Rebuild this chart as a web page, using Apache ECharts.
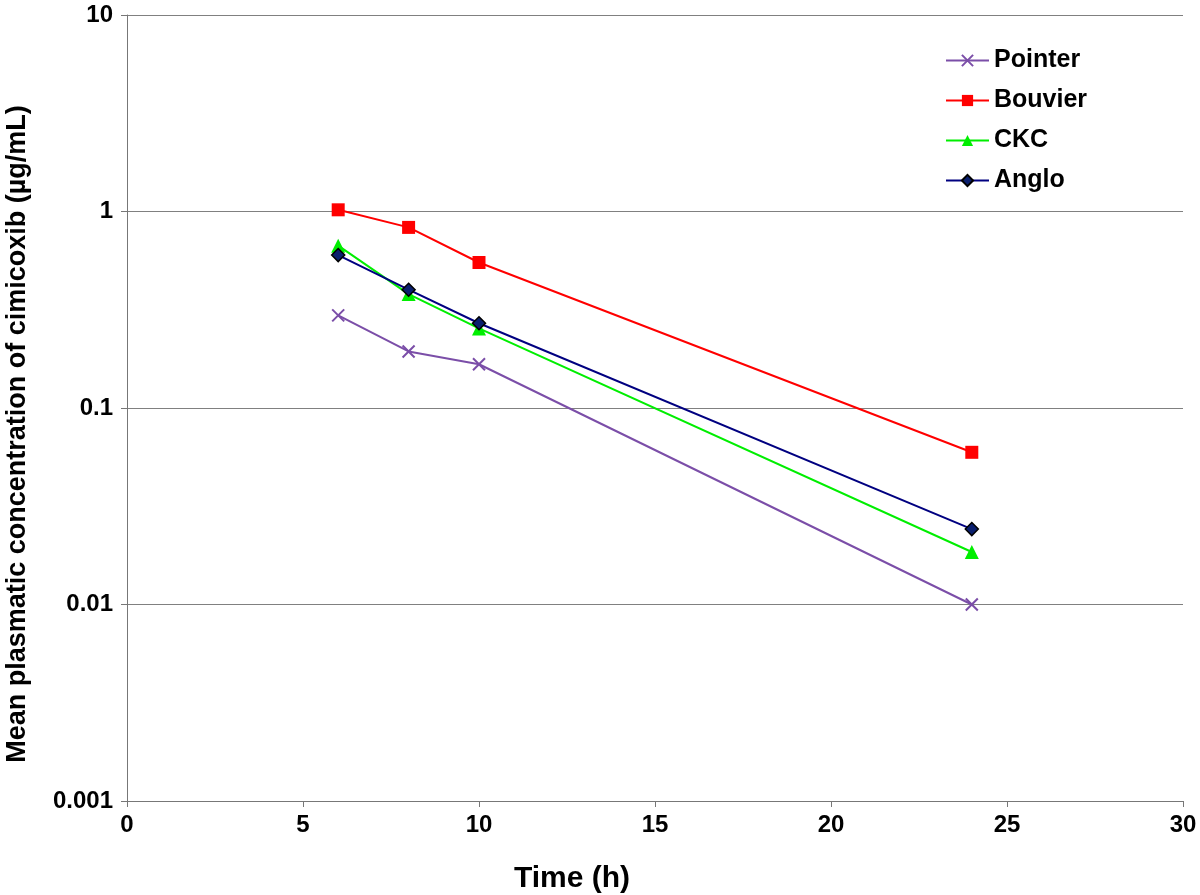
<!DOCTYPE html>
<html><head><meta charset="utf-8">
<script src="https://cdn.jsdelivr.net/npm/echarts@6/dist/echarts.min.js"></script>
<style>html,body{margin:0;padding:0;background:#fff}#c{width:1200px;height:895px}</style>
</head><body><div id="c"></div>
<script>
const times = [6, 8, 10, 24];
const pointer = [0.296, 0.194, 0.167, 0.0100];
const bouvier = [1.02, 0.83, 0.55, 0.0595];
const ckc = [0.67, 0.38, 0.254, 0.0185];
const anglo = [0.60, 0.40, 0.27, 0.0242];
const seriesNames = ['Pointer', 'Bouvier', 'CKC', 'Anglo'];
const xTicks = [0, 5, 10, 15, 20, 25, 30];
const yTickLabels = ['0.001', '0.01', '0.1', '1', '10'];

const FONT = '"Liberation Sans", Arial, Helvetica, sans-serif';
const pair = arr => times.map((t, i) => [t, arr[i]]);
const cross = 'path://M0,0L10,10M10,0L0,10';

const chart = echarts.init(document.getElementById('c'));
chart.setOption({
  animation: false,
  backgroundColor: '#fff',
  grid: {left: 127, right: 17, top: 15, bottom: 94, containLabel: false, outerBoundsMode: 'none'},
  legend: {
    orient: 'vertical', left: 945, top: 48, padding: 0, itemGap: 15, itemWidth: 43, itemHeight: 14,
    textStyle: {fontFamily: FONT, fontWeight: 'bold', fontSize: 25, lineHeight: 24, color: '#000'},
    data: seriesNames
  },
  xAxis: {
    type: 'value', min: 0, max: 30, interval: 5,
    name: 'Time (h)', nameLocation: 'middle', nameGap: 63,
    nameTextStyle: {fontFamily: FONT, fontWeight: 'bold', fontSize: 30, color: '#000', padding: [0, 166, 0, 0]},
    axisLine: {lineStyle: {color: '#777', width: 1}},
    axisTick: {show: true, inside: false, length: 6, lineStyle: {color: '#777'}},
    axisLabel: {fontFamily: FONT, fontWeight: 'bold', fontSize: 24, color: '#000', margin: 12,
      formatter: v => xTicks.includes(v) ? String(v) : ''},
    splitLine: {show: false}
  },
  yAxis: {
    type: 'log', logBase: 10, min: 0.001, max: 10,
    name: 'Mean plasmatic concentration of cimicoxib (\u00b5g/mL)', nameLocation: 'middle', nameGap: 96,
    nameTextStyle: {fontFamily: FONT, fontWeight: 'bold', fontSize: 27, color: '#000', padding: [0, 52, 0, 0]},
    axisLine: {show: true, lineStyle: {color: '#777', width: 1}},
    axisTick: {show: true, inside: false, length: 6, lineStyle: {color: '#777'}},
    axisLabel: {fontFamily: FONT, fontWeight: 'bold', fontSize: 24, color: '#000', margin: 14,
      formatter: v => {
        for (const s of yTickLabels) if (Math.abs(v - Number(s)) / Number(s) < 1e-6) return s;
        return '';
      }},
    splitLine: {show: true, lineStyle: {color: '#808080', width: 1}},
    minorTick: {show: false}
  },
  series: [
    {name: 'Pointer', type: 'line', data: pair(pointer), symbol: cross, symbolSize: 12,
      lineStyle: {color: '#7b4ea8', width: 2},
      itemStyle: {color: '#7b4ea8', borderColor: '#7b4ea8', borderWidth: 2}},
    {name: 'Bouvier', type: 'line', data: pair(bouvier), symbol: 'rect', symbolSize: 13,
      lineStyle: {color: '#ff0000', width: 2},
      itemStyle: {color: '#ff0000', borderColor: '#ff0000', borderWidth: 0}},
    {name: 'CKC', type: 'line', data: pair(ckc), symbol: 'triangle', symbolSize: 14,
      lineStyle: {color: '#00ee00', width: 2},
      itemStyle: {color: '#00ee00', borderColor: '#00ee00', borderWidth: 0}},
    {name: 'Anglo', type: 'line', data: pair(anglo), symbol: 'diamond', symbolSize: 13,
      lineStyle: {color: '#000080', width: 2},
      itemStyle: {color: '#0a1f6e', borderColor: '#000', borderWidth: 1.5}}
  ]
});
</script></body></html>
